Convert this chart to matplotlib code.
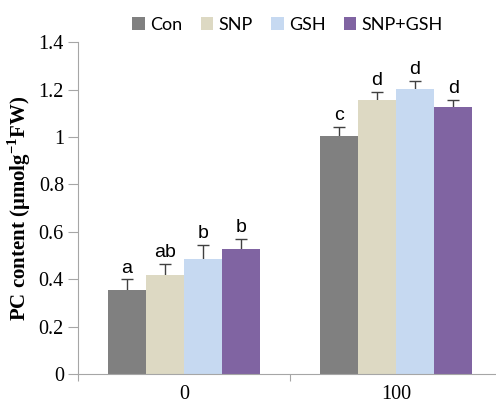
import numpy as np
import matplotlib.pyplot as plt
from matplotlib.patches import Patch

categories = ["0", "100"]
treatments = ["Con", "SNP", "GSH", "SNP+GSH"]
colors = ["#808080", "#ddd9c3", "#c6d9f1", "#8064a2"]

con = [0.354, 1.004]
snp = [0.416, 1.156]
gsh = [0.484, 1.201]
snp_gsh = [0.526, 1.127]

con_err = [0.045, 0.040]
snp_err = [0.048, 0.034]
gsh_err = [0.059, 0.035]
snp_gsh_err = [0.045, 0.028]

con_sig = ["a", "c"]
snp_sig = ["ab", "d"]
gsh_sig = ["b", "d"]
snp_gsh_sig = ["b", "d"]

series = [con, snp, gsh, snp_gsh]
errors = [con_err, snp_err, gsh_err, snp_gsh_err]
letters = [con_sig, snp_sig, gsh_sig, snp_gsh_sig]

plt.rcParams["font.family"] = "Liberation Serif"
plt.rcParams["mathtext.fontset"] = "custom"
plt.rcParams["mathtext.rm"] = "Liberation Serif"
plt.rcParams["mathtext.bf"] = "Liberation Serif:bold"

fig = plt.figure(figsize=(4.96, 4.09), dpi=100)
ax = fig.add_axes([0.157, 0.0856, 0.855, 0.8114])

x = np.arange(len(categories))
w = 0.18
axis_col = "#a6a6a6"

for i in range(4):
    pos = x + (i - 1.5) * w
    # symmetric bars drawn behind, so only the upper half shows (Excel style)
    ax.errorbar(pos, series[i], yerr=errors[i], fmt="none",
                ecolor="#404040", elinewidth=1, capsize=4.5, capthick=1, zorder=1)
    ax.bar(pos, series[i], w, color=colors[i], edgecolor="none", zorder=2)
    for p, v, e, s in zip(pos, series[i], errors[i], letters[i]):
        ax.text(p, v + e + 0.012, s, ha="center", va="bottom",
                fontsize=14, family="Liberation Sans", color="black")

ax.set_xlim(-0.5, 1.5)
ax.set_ylim(0, 1.4)
ax.set_yticks(np.arange(0, 1.41, 0.2))
ax.set_yticklabels(["0", "0.2", "0.4", "0.6", "0.8", "1", "1.2", "1.4"],
                   fontsize=14.5, family="Liberation Serif")
ax.set_xticks([-0.5, 0.5, 1.5])
ax.set_xticklabels([])
ax.set_xticks(x, minor=True)
ax.set_xticklabels(categories, minor=True, fontsize=14.5, family="Liberation Serif")
ax.tick_params(axis="x", which="minor", length=0, pad=8)
ax.tick_params(axis="x", which="major", length=5, color=axis_col)
ax.tick_params(axis="y", length=7, color=axis_col, pad=3)

for s in ["top", "right"]:
    ax.spines[s].set_visible(False)
for s in ["left", "bottom"]:
    ax.spines[s].set_color(axis_col)

ax.set_ylabel(r"PC content (μmolg$^{\mathbf{-1}}$FW)", fontweight="bold",
              fontsize=15, labelpad=4)

handles = [Patch(facecolor=c, edgecolor="none") for c in colors]
fig.legend(handles, treatments, loc="center", bbox_to_anchor=(0.58, 0.94),
           ncol=4, frameon=False, prop={"family": "Lato", "size": 13},
           handlelength=0.7, handleheight=0.7, handletextpad=0.3,
           columnspacing=1.0)

fig.savefig("out.png", dpi=100)
